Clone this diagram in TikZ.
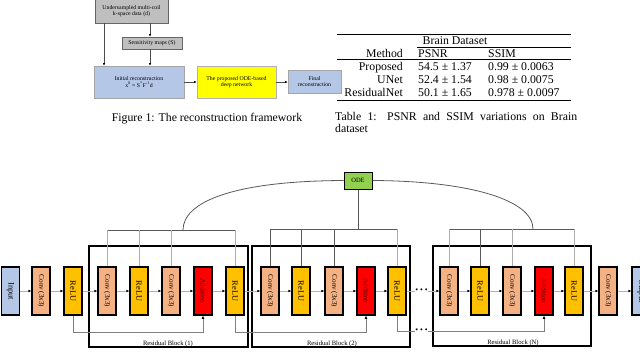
\documentclass[tikz,border=0pt]{standalone}
\usepackage{fontspec}
\setmainfont{Liberation Serif}
\usetikzlibrary{arrows.meta,calc}
\definecolor{salmon}{HTML}{F4B183}
\definecolor{gold}{HTML}{FFC000}
\definecolor{redbox}{HTML}{FF0000}
\definecolor{bluebox}{HTML}{B4C7E7}
\definecolor{greenbox}{HTML}{92D050}
\definecolor{graybox}{HTML}{BFBFBF}
\definecolor{yellowbox}{HTML}{FFFF00}
\definecolor{addtext}{HTML}{4A0000}
\newcommand\myvlab[1]{\rotatebox{-90}{#1}}
\begin{document}
\begin{tikzpicture}[x=1pt,y=-1pt,
  tinytxt/.style={font=\fontsize{5.8}{6.6}\selectfont},
  fbox/.style={tinytxt, align=center, inner sep=0pt, line width=0.5pt},
  gbox/.style={fbox, draw=gray!80!black, fill=graybox},
  bbox/.style={fbox, draw=gray!70, fill=bluebox},
  ybox/.style={fbox, draw=gray!60, fill=yellowbox},
  tarr/.style={draw=gray!60!black, line width=0.5pt, -{Latex[length=2.6pt,width=2.2pt,color=black]}},
  captxt/.style={font=\fontsize{11.8}{13}\selectfont, inner sep=0pt},
  tabrule/.style={line width=0.8pt},
  thinrule/.style={line width=0.5pt},
  lbox/.style={draw=black, line width=1.1pt, minimum width=18pt, minimum height=48pt, inner sep=0pt},
  convb/.style={lbox, fill=salmon, font=\fontsize{7.1}{7.5}\selectfont},
  relub/.style={lbox, fill=gold, font=\fontsize{8.3}{9}\selectfont},
  addb/.style={lbox, fill=redbox, text=addtext, font=\fontsize{7}{7.5}\selectfont},
  iob/.style={lbox, fill=bluebox, font=\fontsize{8.3}{9}\selectfont},
  blk/.style={draw=black, line width=1.1pt, inner sep=0pt},
  blab/.style={font=\fontsize{6.6}{7}\selectfont, inner sep=0pt},
  flow/.style={draw=gray!60, line width=0.8pt, -{Latex[length=3pt,width=2.6pt,color=black]}},
  flowplain/.style={draw=gray!60, line width=0.8pt},
  skipln/.style={draw=gray, line width=0.8pt},
  skiparr/.style={skipln, -{Latex[length=3.2pt,width=2.8pt,color=black]}},
  busln/.style={draw=gray!70!black, line width=0.8pt},
  tapln/.style={draw=gray!65, line width=0.8pt},
  dotsn/.style={font=\fontsize{8}{8}\selectfont, inner sep=0pt}
]
\useasboundingbox (0,0) rectangle (640,351);

% ---------------- Figure 1 ----------------
\node[gbox, minimum width=73pt, minimum height=24pt] (und) at (131.5,11) {Undersampled multi-coil\\k-space data (d)};
\node[gbox, minimum width=60pt, minimum height=12pt] (sens) at (152,43) {Sensitivity maps (S)};
\node[bbox, minimum width=90pt, minimum height=32pt] (init) at (139,82) {Initial reconstruction\\x\textsuperscript{0} = S\textsuperscript{*}F\textsuperscript{-1}d};
\node[ybox, minimum width=79pt, minimum height=32pt] (prop) at (236.5,82) {The proposed ODE-based\\deep network};
\node[bbox, minimum width=53pt, minimum height=23pt] (fin) at (314.5,81.5) {Final\\reconstruction};
\coordinate (xa) at (104,0);
\coordinate (xb) at (150,0);
\draw[tarr] (und.south -| xa) -- (init.north -| xa);
\draw[tarr] (und.south -| xb) -- (sens.north -| xb);
\draw[tarr] (sens.south -| xb) -- (init.north -| xb);
\draw[tarr] (init.east) -- (prop.west);
\draw[tarr] (prop.east) -- (prop.east -| fin.west);
\node[captxt, anchor=base] (cap1) at (207,121) {Figure 1: The reconstruction framework};

% ---------------- Table 1 ----------------
\draw[tabrule] (337,34) coordinate (r1a) -- (571,34) coordinate (r1b);
\draw[thinrule] (417,47.3) coordinate (r2a) -- (571,47.3) coordinate (r2b);
\draw[thinrule] (337,59.5) coordinate (r3a) -- (571,59.5) coordinate (r3b);
\draw[tabrule] (337,100.8) coordinate (r4a) -- (571,100.8) coordinate (r4b);
\node[captxt, anchor=base] (th0) at (455,44.5) {Brain Dataset};
\node[captxt, anchor=base east] (th1) at (403,57) {Method};
\node[captxt, anchor=base west] (th2) at (418,57) {PSNR};
\node[captxt, anchor=base west] (th3) at (488,57) {SSIM};
\node[captxt, anchor=base east] (ta1) at (403,70.5) {Proposed};
\node[captxt, anchor=base west] (ta2) at (418,70.5) {54.5 ± 1.37};
\node[captxt, anchor=base west] (ta3) at (488,70.5) {0.99 ± 0.0063};
\node[captxt, anchor=base east] (tb1) at (403,83.5) {UNet};
\node[captxt, anchor=base west] (tb2) at (418,83.5) {52.4 ± 1.54};
\node[captxt, anchor=base west] (tb3) at (488,83.5) {0.98 ± 0.0075};
\node[captxt, anchor=base east] (tc1) at (403,96.5) {ResidualNet};
\node[captxt, anchor=base west] (tc2) at (418,96.5) {50.1 ± 1.65};
\node[captxt, anchor=base west] (tc3) at (488,96.5) {0.978 ± 0.0097};
\node[captxt, anchor=north west, text width=242pt, align=justify, font=\fontsize{11.8}{11.5}\selectfont] (cap2) at (335,112.5) {Table 1: PSNR and SSIM variations on Brain\linebreak dataset};

% ---------------- Network ----------------
\node[blk, minimum width=159pt, minimum height=101pt] (blk1) at (168.5,296.5) {};
\node[blk, minimum width=158pt, minimum height=101pt] (blk2) at (331,296.5) {};
\node[blk, minimum width=158pt, minimum height=100pt] (blkn) at (512,296) {};
\node[blab, anchor=base] (lab1) at (168,345) {Residual Block (1)};
\node[blab, anchor=base] (lab2) at (332,345) {Residual Block (2)};
\node[blab, anchor=base] (labn) at (513,344.5) {Residual Block (N)};

\node[iob] (inp) at (10.5,291) {\myvlab{Input}};
\node[convb] (c0) at (41,291) {\myvlab{Conv (3x3)}};
\node[relub] (r0) at (73,291) {\myvlab{ReLU}};

\node[convb] (b1c1) at (107,291) {\myvlab{Conv (3x3)}};
\node[relub] (b1r1) at (139,291) {\myvlab{ReLU}};
\node[convb] (b1c2) at (171,291) {\myvlab{Conv (3x3)}};
\node[addb] (b1a) at (203,291) {\myvlab{Addition}};
\node[relub] (b1r2) at (235,291) {\myvlab{ReLU}};

\node[convb] (b2c1) at (270,291) {\myvlab{Conv (3x3)}};
\node[relub] (b2r1) at (301,291) {\myvlab{ReLU}};
\node[convb] (b2c2) at (334,291) {\myvlab{Conv (3x3)}};
\node[addb] (b2a) at (366,291) {\myvlab{Addition}};
\node[relub] (b2r2) at (397,291) {\myvlab{ReLU}};

\node[convb] (bnc1) at (449,291) {\myvlab{Conv (3x3)}};
\node[relub] (bnr1) at (480,291) {\myvlab{ReLU}};
\node[convb] (bnc2) at (512,291) {\myvlab{Conv (3x3)}};
\node[addb] (bna) at (544,291) {\myvlab{Addition}};
\node[relub] (bnr2) at (574,291) {\myvlab{ReLU}};

\node[convb] (cf) at (608,291) {\myvlab{Conv (3x3)}};
\node[iob] (outp) at (641,291) {\myvlab{Output}};

\node[dotsn] (d1) at (421.5,291) {• • •};
\node[dotsn] (d2) at (421.5,331) {• • •};

\node[draw=black, line width=1pt, fill=greenbox, minimum width=28pt, minimum height=17pt, inner sep=0pt, font=\fontsize{6.5}{7}\selectfont] (ode) at (358,180.5) {ODE};

% main flow
\draw[flow] (inp) -- (c0);
\draw[flow] (c0) -- (r0);
\draw[flow] (r0) -- (b1c1);
\draw[flow] (b1c1) -- (b1r1);
\draw[flow] (b1r1) -- (b1c2);
\draw[flow] (b1c2) -- (b1a);
\draw[flow] (b1a) -- (b1r2);
\draw[flow] (b1r2) -- (b2c1);
\draw[flow] (b2c1) -- (b2r1);
\draw[flow] (b2r1) -- (b2c2);
\draw[flow] (b2c2) -- (b2a);
\draw[flow] (b2a) -- (b2r2);
\draw[flowplain] (b2r2) -- (d1);
\draw[flow] (d1) -- (bnc1);
\draw[flow] (bnc1) -- (bnr1);
\draw[flow] (bnr1) -- (bnc2);
\draw[flow] (bnc2) -- (bna);
\draw[flow] (bna) -- (bnr2);
\draw[flow] (bnr2) -- (cf);
\draw[flow] (cf) -- (outp);

% skip connections
\coordinate (s1) at (0,332);
\coordinate (s3) at (0,331);
\draw[skiparr] (r0.south) -- (r0.south |- s1) -| (b1a.south);
\draw[skiparr] (b1r2.south) -- (b1r2.south |- s1) -| (b2a.south);
\draw[skipln] (b2r2.south) -- (b2r2.south |- s3) -- (d2);
\draw[skiparr] (d2) -| (bna.south);

% ODE buses
\coordinate (bus1) at (0,230);
\coordinate (bus2) at (0,229);
\draw[busln] (b1c1.north |- bus1) -- (b1r2.north |- bus1);
\draw[tapln] (b1c1.north) -- (b1c1.north |- bus1);
\draw[tapln] (b1r1.north) -- (b1r1.north |- bus1);
\draw[tapln] (b1c2.north) -- (b1c2.north |- bus1);
\draw[tapln] (b1r2.north) -- (b1r2.north |- bus1);

\draw[busln] (b2c1.north |- bus2) -- (b2r2.north |- bus2);
\draw[busln] (b2c1.north) -- (b2c1.north |- bus2);
\draw[busln] (b2r1.north) -- (b2r1.north |- bus2);
\draw[busln] (b2c2.north) -- (b2c2.north |- bus2);
\draw[tapln] (b2r2.north) -- (b2r2.north |- bus2);

\draw[busln] (bnc1.north |- bus2) -- (bnr2.north |- bus2);
\draw[tapln] (bnc1.north) -- (bnc1.north |- bus2);
\draw[busln] (bnr1.north) -- (bnr1.north |- bus2);
\draw[tapln] (bnc2.north) -- (bnc2.north |- bus2);
\draw[tapln] (bnr2.north) -- (bnr2.north |- bus2);

\coordinate (j1) at (183,230);
\coordinate (jn) at (533,229);
\draw[busln] (ode.west) .. controls (230,181) and (183,203) .. (j1);
\draw[busln] (ode.east) .. controls (470,181) and (533,200) .. (jn);
\draw[busln] (ode.south) -- (ode.south |- bus2);
\end{tikzpicture}
\end{document}
